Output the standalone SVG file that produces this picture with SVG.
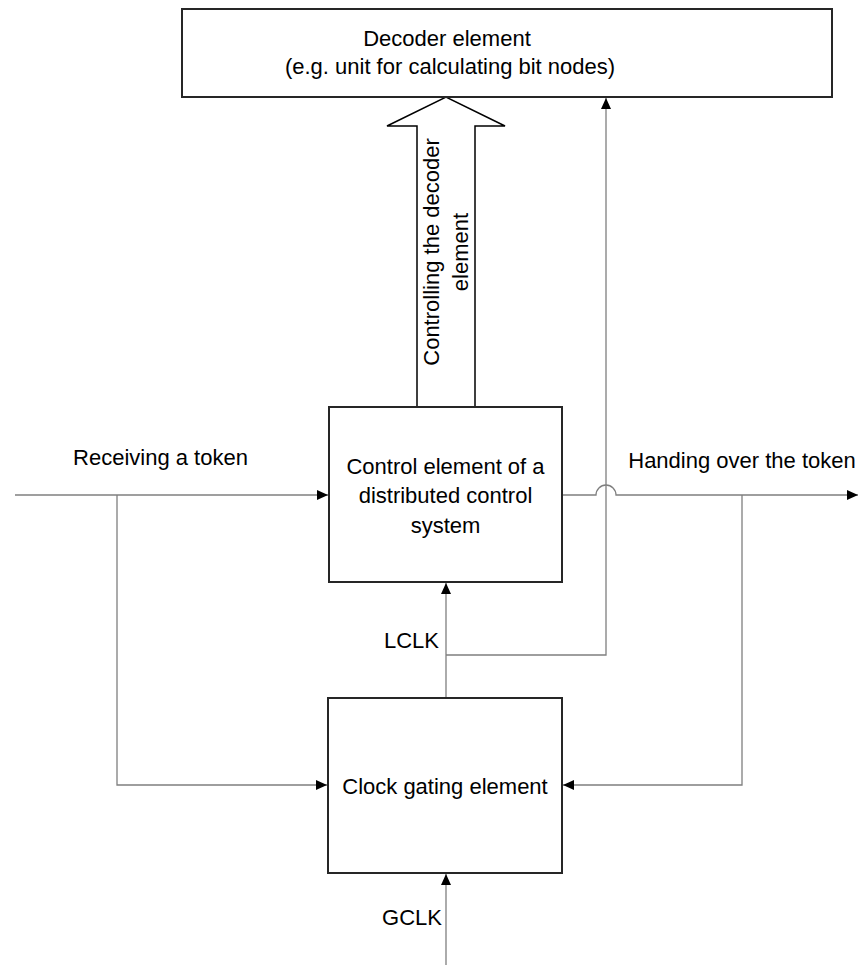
<svg xmlns="http://www.w3.org/2000/svg" width="864" height="965" viewBox="0 0 864 965">
<style>
.box{fill:#fff;stroke:#262626;stroke-width:2}
.wire{fill:none;stroke:#7f7f7f;stroke-width:1.3}
.big{fill:#fff;stroke:#000;stroke-width:1.5}
text{font-family:"Liberation Sans",Arial,sans-serif;font-size:22px;fill:#000}
.c{text-anchor:middle}
.e{text-anchor:end}
</style>
<defs>
<marker id="ah" markerUnits="userSpaceOnUse" markerWidth="12" markerHeight="10" refX="11" refY="5" orient="auto">
<path d="M0,0 L11,5 L0,10 Z" fill="#000"/>
</marker>
</defs>
<g id="connectors">
<path class="wire" d="M15,495 H328" marker-end="url(#ah)"/>
<path class="wire" d="M117,495 V785 H327" marker-end="url(#ah)"/>
<path class="wire" d="M562,495 H596 A10,10 0 0 1 616,495 H858" marker-end="url(#ah)"/>
<path class="wire" d="M742,495 V785 H563" marker-end="url(#ah)"/>
<path class="wire" d="M446,698 V583" marker-end="url(#ah)"/>
<path class="wire" d="M446,655 H606 V98" marker-end="url(#ah)"/>
<path class="wire" d="M446,965 V874" marker-end="url(#ah)"/>
<polygon class="big" points="417,407 417,126 387,126 446,97 505,126 475,126 475,407"/>
<text transform="translate(439,252) rotate(-90)" class="c">Controlling the decoder</text>
<text transform="translate(468,252) rotate(-90)" class="c">element</text>
</g>
<g id="decoder">
<rect class="box" x="182" y="9" width="650" height="88"/>
<text class="c" x="447" y="46">Decoder element</text>
<text class="c" x="450" y="74">(e.g. unit for calculating bit nodes)</text>
</g>
<g id="control">
<rect class="box" x="329" y="407" width="233" height="175"/>
<text class="c" x="445.5" y="474">Control element of a</text>
<text class="c" x="445.5" y="503">distributed control</text>
<text class="c" x="445.5" y="533">system</text>
</g>
<g id="clock">
<rect class="box" x="328" y="698" width="234" height="175"/>
<text class="c" x="445" y="794">Clock gating element</text>
</g>
<g id="labels">
<text class="c" x="160.5" y="465">Receiving a token</text>
<text class="c" x="742" y="468">Handing over the token</text>
<text class="e" x="439" y="648">LCLK</text>
<text class="e" x="442" y="925">GCLK</text>
</g>
</svg>
